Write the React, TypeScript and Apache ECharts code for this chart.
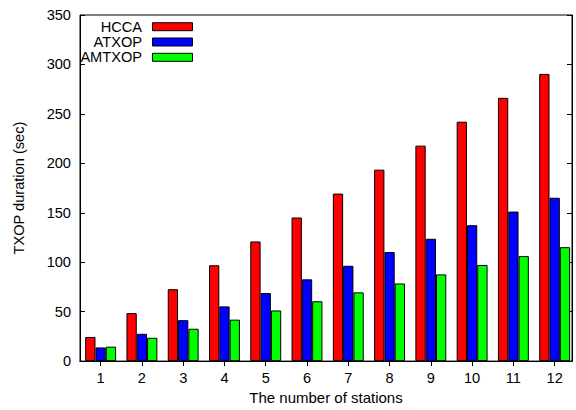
import React, { useEffect, useRef } from "react";
import * as echarts from "echarts";

const stations = [1, 2, 3, 4, 5, 6, 7, 8, 9, 10, 11, 12];
const seriesNames = ["HCCA", "ATXOP", "AMTXOP"];
const hcca = [24.4, 48.5, 72.7, 96.9, 121, 145.2, 169.4, 193.6, 217.9, 242.1, 266.2, 290.4];
const atxop = [13.8, 27.6, 41.4, 55.3, 68.8, 82.7, 96.4, 110.3, 123.7, 137.4, 151.2, 165.2];
const amtxop = [14.6, 23.6, 32.7, 41.9, 51.2, 60.5, 69.5, 78.5, 87.7, 97.2, 106.2, 115.2];
const colors = ["#ff0000", "#0000ff", "#00ff00"];
const yAxisTitle = "TXOP duration (sec)";
const xAxisTitle = "The number of stations";

const FONT = "'Liberation Sans', Arial, Helvetica, sans-serif";
const FS = 14.6;

export default function App() {
  const ref = useRef<HTMLDivElement>(null);
  useEffect(() => {
    if (!ref.current) return;
    const chart = echarts.init(ref.current, null, { renderer: "svg" });
    const values = [hcca, atxop, amtxop];
    const black = { color: "#000", width: 1 };
    chart.setOption({
      animation: false,
      textStyle: { fontFamily: FONT },
      grid: {
        left: 80,
        right: 4,
        top: 15,
        bottom: 44.5,
        show: true,
        borderColor: "#000",
        borderWidth: 1,
        backgroundColor: "transparent",
      },
      xAxis: [
        {
          type: "value",
          min: 0.5,
          max: 12.42,
          position: "bottom",
          name: xAxisTitle,
          nameLocation: "middle",
          nameGap: 27,
          nameTextStyle: { fontSize: 15, color: "#000", fontFamily: FONT },
          axisLine: { show: true, lineStyle: black },
          axisTick: { show: false },
          axisLabel: { customValues: stations, fontSize: FS, color: "#000", margin: 9, fontFamily: FONT },
          splitLine: { show: false },
        },
        {
          type: "value",
          min: 0.5,
          max: 12.42,
          position: "top",
          axisLine: { show: true, lineStyle: black },
          axisTick: { show: true, inside: true, length: 5, customValues: stations, lineStyle: black },
          axisLabel: { show: false },
          splitLine: { show: false },
        },
      ],
      yAxis: [
        {
          type: "value",
          min: 0,
          max: 350,
          interval: 50,
          position: "left",
          name: yAxisTitle,
          nameLocation: "middle",
          nameRotate: 90,
          nameGap: 54,
          nameTextStyle: { fontSize: FS, color: "#000", fontFamily: FONT },
          axisLine: { show: true, lineStyle: black },
          axisTick: { show: true, inside: true, length: 5, lineStyle: black },
          axisLabel: { fontSize: FS, color: "#000", margin: 9, fontFamily: FONT },
          splitLine: { show: false },
        },
        {
          type: "value",
          min: 0,
          max: 350,
          interval: 50,
          position: "right",
          axisLine: { show: true, lineStyle: black },
          axisTick: { show: true, inside: true, length: 5, lineStyle: black },
          axisLabel: { show: false },
          splitLine: { show: false },
        },
      ],
      series: seriesNames.map((name, i) => ({
        name,
        type: "bar",
        xAxisIndex: 0,
        yAxisIndex: 0,
        barWidth: 10.3,
        barGap: "0%",
        data: stations.map((s, k) => [s, values[i][k]]),
        itemStyle: { color: colors[i], borderColor: "#000", borderWidth: 1 },
      })),
      graphic: seriesNames.flatMap((name, i) => [
        {
          type: "text",
          x: 142,
          y: 26.7 + i * 15.3,
          style: {
            text: name,
            align: "right",
            verticalAlign: "middle",
            font: `${FS}px ${FONT}`,
            fill: "#000",
          },
        },
        {
          type: "rect",
          shape: { x: 152.5, y: 22.7 + i * 15.3, width: 40, height: 8 },
          style: { fill: colors[i], stroke: "#000", lineWidth: 1 },
        },
      ]),
    });
    return () => chart.dispose();
  }, []);
  return (
    <div
      ref={ref}
      style={{ position: "fixed", left: 0, top: 0, width: 576, height: 410, background: "#fff" }}
    />
  );
}
